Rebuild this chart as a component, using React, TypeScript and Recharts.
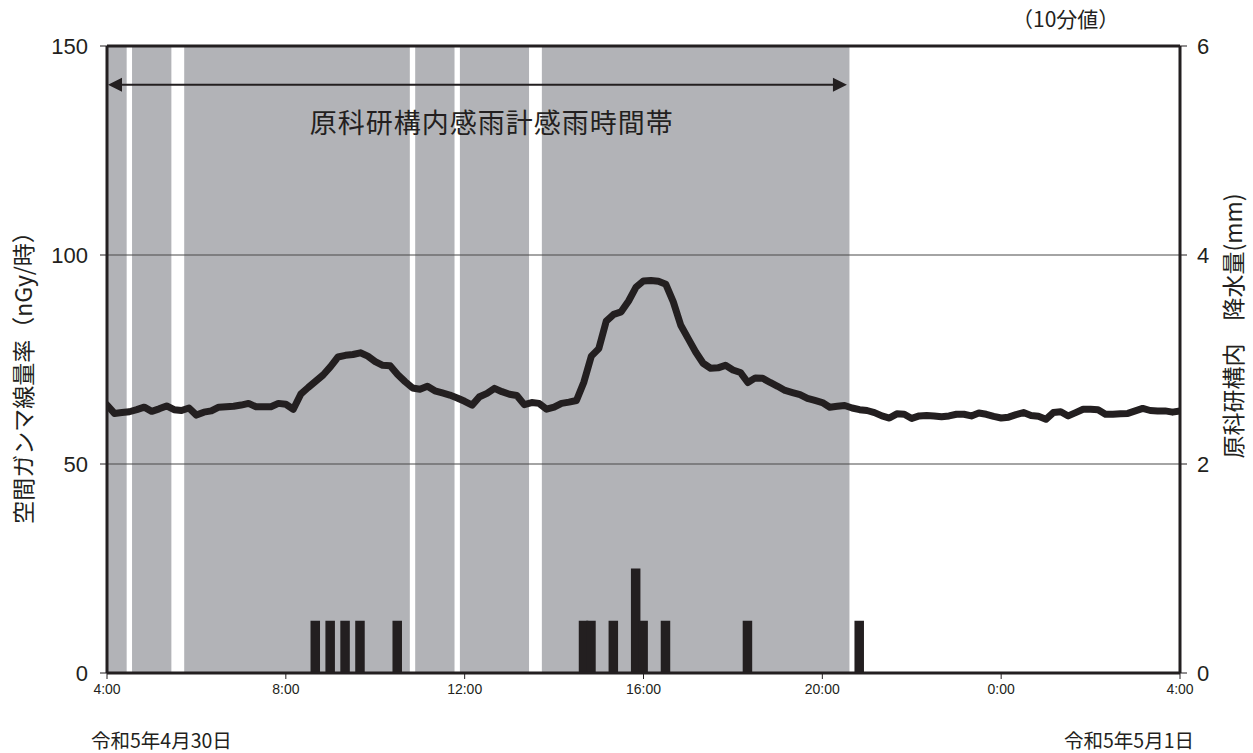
import React from 'react';
import {
  ComposedChart,
  Line,
  Bar,
  XAxis,
  YAxis,
  ReferenceArea,
  ReferenceLine,
} from 'recharts';

// ---- data ----
// minutes after 4:00 on 令和5年4月30日, every 10 minutes
const STEP_MIN = 10;
const gamma: number[] = [
  64.1, 62.1, 62.3, 62.5, 63.0, 63.6, 62.6, 63.2, 63.9, 63.0,
  62.8, 63.4, 61.7, 62.4, 62.7, 63.6, 63.7, 63.8, 64.1, 64.5,
  63.7, 63.7, 63.7, 64.5, 64.3, 63.1, 66.7, 68.3, 69.8, 71.3,
  73.3, 75.6, 76.0, 76.2, 76.6, 75.8, 74.5, 73.6, 73.5, 71.4,
  69.7, 68.2, 67.9, 68.6, 67.5, 67.0, 66.5, 65.8, 65.0, 64.1,
  66.1, 66.9, 68.1, 67.3, 66.7, 66.4, 64.2, 64.7, 64.5, 63.1,
  63.6, 64.5, 64.8, 65.2, 69.6, 75.8, 77.6, 84.2, 85.8, 86.4,
  89.0, 92.3, 93.8, 93.9, 93.7, 93.0, 88.8, 83.2, 80.0, 76.8,
  74.1, 72.9, 73.0, 73.6, 72.5, 71.9, 69.5, 70.6, 70.5, 69.5,
  68.6, 67.6, 67.1, 66.6, 65.7, 65.2, 64.7, 63.6, 63.8, 64.0,
  63.4, 63.0, 62.8, 62.3, 61.5, 61.0, 62.0, 61.9, 60.9, 61.5,
  61.6, 61.5, 61.3, 61.5, 61.9, 61.9, 61.5, 62.2, 61.9, 61.4,
  61.0, 61.2, 61.8, 62.3, 61.6, 61.4, 60.7, 62.3, 62.5, 61.5,
  62.3, 63.1, 63.1, 63.0, 61.9, 61.9, 62.0, 62.1, 62.7, 63.3,
  62.8, 62.7, 62.7, 62.4, 62.7,
];

// rainfall (mm per 10 min), right axis
const rainTimes: number[] = [280, 300, 320, 340, 390, 640, 650, 680, 710, 720, 750, 860, 1010];
const rainValues: number[] = [0.5, 0.5, 0.5, 0.5, 0.5, 0.5, 0.5, 0.5, 1.0, 0.5, 0.5, 0.5, 0.5];

// rain-sensor "raining" periods (first and last 10-min record of each period)
const senseStart: number[] = [0, 40, 110, 420, 480, 590];
const senseEnd: number[] = [20, 80, 400, 460, 560, 990];

const xTicks: number[] = [0, 240, 480, 720, 960, 1200, 1440];
const xTickLabels: string[] = ['4:00', '8:00', '12:00', '16:00', '20:00', '0:00', '4:00'];
const leftTicks: number[] = [0, 50, 100, 150];
const rightTicks: number[] = [0, 2, 4, 6];
const arrowLevel = 140.7;
const arrowEnd = 993;

const tableData = gamma.map((g, i) => {
  const t = i * STEP_MIN;
  const k = rainTimes.indexOf(t);
  return { t, gamma: g, rain: k >= 0 ? rainValues[k] : null };
});

// ---- style ----
const W = 1253;
const H = 753;
const INK = '#231f20';
const GRAY = '#b2b3b7';
const NUM_FONT = "'Liberation Sans', Arial, sans-serif";
const JP_FONT = "'Noto Sans CJK JP', 'Noto Sans', sans-serif";
const HALF_BAR_MIN = 6.4;
const BAR_W = 9.5;

const RainBar = (props: any) => {
  const { x, y, width, height } = props;
  if (x == null || height == null || height <= 0) return null;
  const cx = x + width / 2;
  return <rect x={cx - BAR_W / 2} y={y} width={BAR_W} height={height} fill={INK} />;
};

const ArrowShape = (props: any) => {
  const { x1, y1, x2, y2 } = props;
  if (x1 == null || x2 == null) return null;
  const y = (y1 + y2) / 2;
  const hl = 14;
  const hw = 7;
  return (
    <g>
      <line x1={x1 + hl - 1} y1={y} x2={x2 - hl + 1} y2={y} stroke={INK} strokeWidth={2} />
      <polygon points={`${x1 + 1},${y} ${x1 + 1 + hl},${y - hw} ${x1 + 1 + hl},${y + hw}`} fill={INK} />
      <polygon points={`${x2},${y} ${x2 - hl},${y - hw} ${x2 - hl},${y + hw}`} fill={INK} />
      <text
        x={x1 + (x2 - x1) * 0.52}
        y={y + 37}
        textAnchor="middle"
        dominantBaseline="central"
        fontSize={27}
        letterSpacing={1}
        fontFamily={JP_FONT}
        fill={INK}
      >
        原科研構内感雨計感雨時間帯
      </text>
    </g>
  );
};

const textBase: React.CSSProperties = {
  position: 'absolute',
  color: INK,
  fontFamily: JP_FONT,
  whiteSpace: 'nowrap',
  lineHeight: 1,
};

export default function App() {
  return (
    <div style={{ position: 'absolute', left: 0, top: 0, width: W, height: H, background: '#fff' }}>
      <ComposedChart
        width={W}
        height={H}
        data={tableData}
        margin={{ top: 46, right: 0, bottom: 0, left: 0 }}
      >
        <XAxis
          dataKey="t"
          type="number"
          domain={[0, 1440]}
          ticks={xTicks}
          tickFormatter={(v: number) => xTickLabels[xTicks.indexOf(v)] ?? ''}
          height={80}
          axisLine={{ stroke: INK, strokeWidth: 3 }}
          tickLine={{ stroke: INK, strokeWidth: 1 }}
          tickSize={6}
          tickMargin={5}
          tick={{ fontSize: 14, fill: INK, fontFamily: NUM_FONT }}
          allowDataOverflow
        />
        <YAxis
          yAxisId="left"
          domain={[0, 150]}
          ticks={leftTicks}
          width={107}
          axisLine={{ stroke: INK, strokeWidth: 3 }}
          tickLine={{ stroke: INK, strokeWidth: 1 }}
          tickSize={7}
          tickMargin={12}
          tick={{ fontSize: 22, fill: INK, fontFamily: NUM_FONT }}
          allowDataOverflow
        />
        <YAxis
          yAxisId="right"
          orientation="right"
          domain={[0, 6]}
          ticks={rightTicks}
          width={73}
          axisLine={{ stroke: INK, strokeWidth: 3 }}
          tickLine={{ stroke: INK, strokeWidth: 1 }}
          tickSize={7}
          tickMargin={10}
          tick={{ fontSize: 22, fill: INK, fontFamily: NUM_FONT }}
          allowDataOverflow
        />

        {senseStart.map((s, i) => (
          <ReferenceArea
            key={`band-${i}`}
            yAxisId="left"
            x1={Math.max(0, s - HALF_BAR_MIN)}
            x2={senseEnd[i] + HALF_BAR_MIN}
            y1={0}
            y2={150}
            fill={GRAY}
            fillOpacity={1}
            stroke="none"
            ifOverflow="visible"
          />
        ))}

        <ReferenceLine yAxisId="left" y={50} stroke="#4a4a4a" strokeWidth={1.2} />
        <ReferenceLine yAxisId="left" y={100} stroke="#4a4a4a" strokeWidth={1.2} />
        <ReferenceLine yAxisId="left" y={150} stroke={INK} strokeWidth={3} />

        <Bar
          yAxisId="right"
          dataKey="rain"
          fill={INK}
          barSize={8}
          shape={RainBar}
          isAnimationActive={false}
        />
        <Line
          yAxisId="left"
          type="linear"
          dataKey="gamma"
          stroke={INK}
          strokeWidth={7}
          strokeLinejoin="round"
          strokeLinecap="round"
          dot={false}
          activeDot={false}
          isAnimationActive={false}
        />
        <ReferenceLine
          yAxisId="left"
          segment={[
            { x: 0, y: arrowLevel },
            { x: arrowEnd, y: arrowLevel },
          ]}
          shape={ArrowShape}
          ifOverflow="visible"
        />
      </ComposedChart>

      <div
        style={{
          ...textBase,
          left: 22,
          top: 372,
          fontSize: 23,
          transform: 'translate(-50%, -50%) rotate(-90deg)',
        }}
      >
        空間ガンマ線量率（nGy/時）
      </div>
      <div
        style={{
          ...textBase,
          left: 1232,
          top: 326,
          fontSize: 23,
          transform: 'translate(-50%, -50%) rotate(-90deg)',
        }}
      >
        原科研構内　降水量(mm)
      </div>
      <div style={{ ...textBase, left: 1012, top: 8, fontSize: 21 }}>（10分値）</div>
      <div style={{ ...textBase, left: 91, top: 730, fontSize: 19.5 }}>令和5年4月30日</div>
      <div style={{ ...textBase, right: W - 1194, top: 730, fontSize: 19.5 }}>令和5年5月1日</div>
    </div>
  );
}
